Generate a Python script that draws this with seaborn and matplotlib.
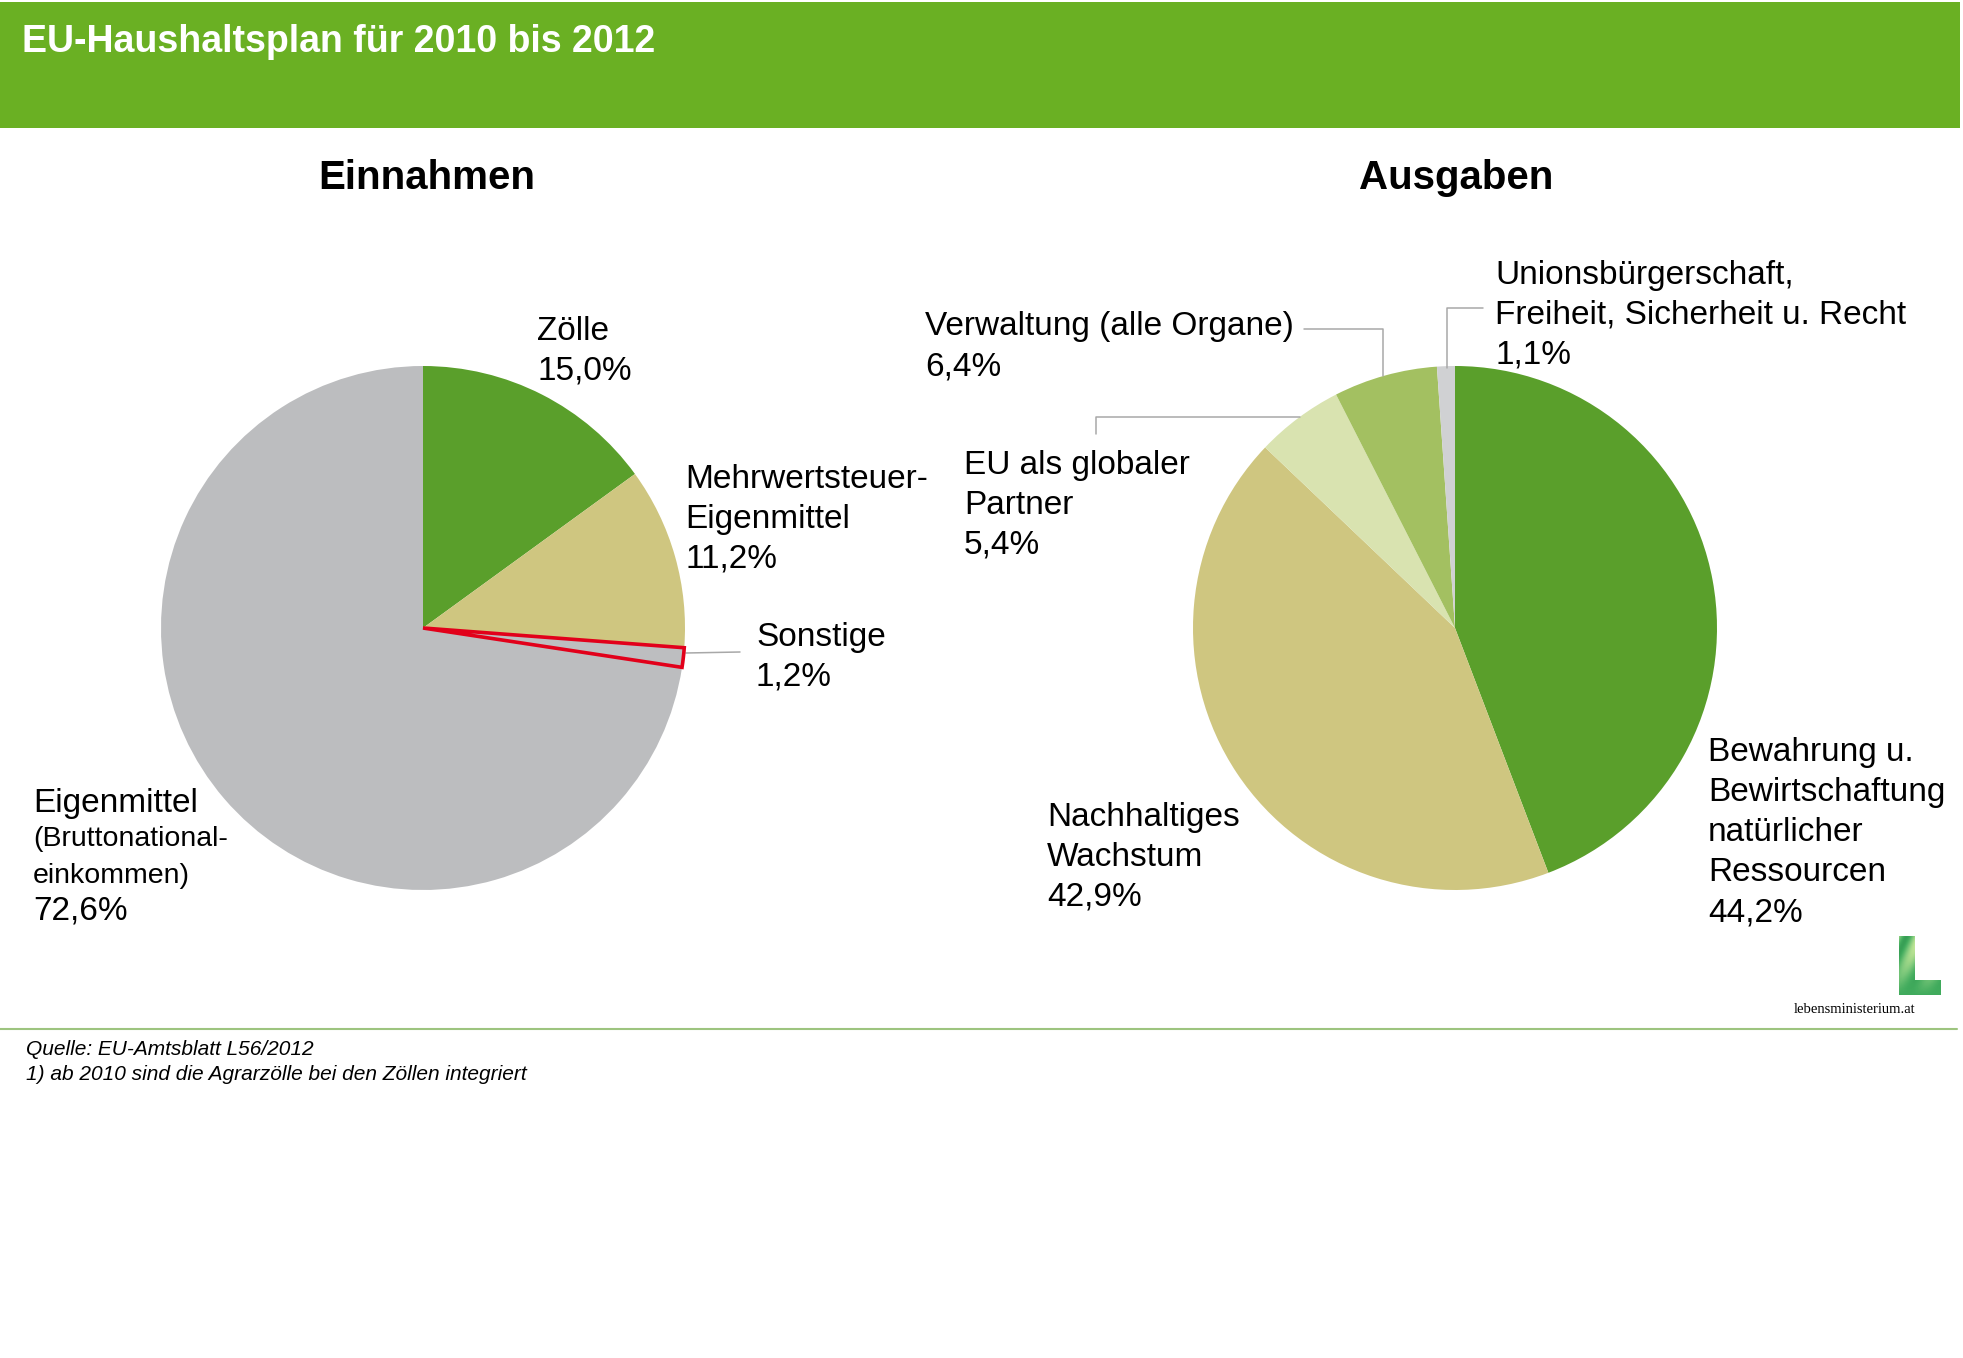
import numpy as np
import matplotlib
matplotlib.use("Agg")
import matplotlib.pyplot as plt
from matplotlib.patches import Rectangle, Polygon
from matplotlib import font_manager
import seaborn as sns

# Einnahmen, clockwise from 12 o'clock
ein_labels = ["Zölle", "Mehrwertsteuer-Eigenmittel", "Sonstige",
              "Eigenmittel (Bruttonationaleinkommen)"]
ein_values = [15.0, 11.2, 1.2, 72.6]

# Ausgaben, clockwise from 12 o'clock
aus_labels = ["Bewahrung u. Bewirtschaftung natürlicher Ressourcen",
              "Nachhaltiges Wachstum", "EU als globaler Partner",
              "Verwaltung (alle Organe)",
              "Unionsbürgerschaft, Freiheit, Sicherheit u. Recht"]
aus_values = [44.2, 42.9, 5.4, 6.4, 1.1]

# how the label text is broken in the chart
ein_rows = [["Zölle"], ["Mehrwertsteuer-", "Eigenmittel"], ["Sonstige"],
            ["Eigenmittel", "(Bruttonational-", "einkommen)"]]
aus_rows = [["Bewahrung u.", "Bewirtschaftung", "natürlicher", "Ressourcen"],
            ["Nachhaltiges", "Wachstum"], ["EU als globaler", "Partner"],
            ["Verwaltung (alle Organe)"],
            ["Unionsbürgerschaft,", "Freiheit, Sicherheit u. Recht"]]

title = "EU-Haushaltsplan für 2010 bis 2012"
notes = ["Quelle: EU-Amtsblatt L56/2012",
         "1) ab 2010 sind die Agrarzölle bei den Zöllen integriert"]

sns.set_theme(style="white")
names = {f.name for f in font_manager.fontManager.ttflist}
SANS = ["Liberation Sans", "DejaVu Sans"]
NARROW = ["Liberation Sans Narrow"] if "Liberation Sans Narrow" in names else SANS
plt.rcParams["font.family"] = SANS
plt.rcParams["text.color"] = "black"

W, H = 1963, 1358
fig = plt.figure(figsize=(W / 100, H / 100), dpi=100)
ax = fig.add_axes([0, 0, 1, 1])


def Y(y):
    return H - y


def pct(v):
    return f"{v:.1f}".replace(".", ",") + "%"


def block(x, y0, step, rows, size=24):
    for i, r in enumerate(rows):
        ax.text(x, Y(y0 + i * step + 12), r, fontsize=size, va="baseline",
                ha="left", color="black")


# header band
ax.add_patch(Rectangle((0, Y(128)), 1960, 126, color="#6ab023", lw=0))
ax.text(22, Y(52), title, fontsize=31 if NARROW != SANS else 27,
        fontweight="bold", color="white", family=NARROW, va="baseline")

ax.text(427, Y(178), "Einnahmen", fontsize=29, fontweight="bold",
        ha="center", va="center")
ax.text(1456, Y(178), "Ausgaben", fontsize=29, fontweight="bold",
        ha="center", va="center")

ein_colors = ["#5a9f2b", "#cfc680", "#bdbec0", "#bcbdbf"]
aus_colors = ["#5a9f2b", "#cfc680", "#d9e3b0", "#a3c061", "#d0d1d3"]

w1, _ = ax.pie(ein_values, colors=ein_colors, startangle=90, counterclock=False,
               center=(423, Y(628)), radius=262, frame=True,
               wedgeprops=dict(linewidth=0))
w1[2].set_edgecolor("#e2001a")
w1[2].set_linewidth(2.6)
w1[2].set_joinstyle("miter")
w1[2].set_zorder(3)

ax.pie(aus_values, colors=aus_colors, startangle=90, counterclock=False,
       center=(1455, Y(628)), radius=262, frame=True,
       wedgeprops=dict(linewidth=0))

# connector lines
lc = dict(color="#a8a8a8", lw=1.1)
ax.plot([686, 740], [Y(653), Y(652)], **lc)
ax.plot([1304, 1383, 1383], [Y(329), Y(329), Y(376)], **lc)
ax.plot([1300, 1096, 1096], [Y(417), Y(417), Y(434)], **lc)
ax.plot([1483, 1447, 1447], [Y(308), Y(308), Y(368)], **lc)

# labels Einnahmen
block(537, 328, 40, ein_rows[0] + [pct(ein_values[0])])
block(685, 476, 40, ein_rows[1] + [pct(ein_values[1])])
block(756, 634, 40, ein_rows[2] + [pct(ein_values[2])])
block(33, 800, 40, ein_rows[3][:1])
block(33, 834, 37, ein_rows[3][1:], size=20.5)
block(33, 907, 40, [pct(ein_values[3])])

# labels Ausgaben
block(1708, 749, 40, aus_rows[0] + [pct(aus_values[0])])
block(1047, 814, 40, aus_rows[1] + [pct(aus_values[1])])
block(964, 462, 40, aus_rows[2] + [pct(aus_values[2])])
block(925, 323, 40, aus_rows[3] + [pct(aus_values[3])])
block(1495, 272, 40, aus_rows[4] + [pct(aus_values[4])])

# logo
L = Polygon([(1899, Y(936)), (1915, Y(936)), (1915, Y(980)), (1941, Y(980)),
             (1941, Y(995)), (1899, Y(995))], closed=True, fc="none", ec="none")
ax.add_patch(L)
gx, gy = np.meshgrid(np.linspace(0, 1, 40), np.linspace(0, 1, 60))
shade = 0.55 + 0.25 * np.sin(gx * 9 + gy * 6) * (1 - gy) + 0.2 * gy
img = ax.imshow(shade, cmap="YlGn", vmin=0, vmax=1.2,
                extent=(1899, 1941, Y(995), Y(936)), zorder=2)
img.set_clip_path(L)
ax.text(1794, Y(1013), "lebensministerium.at", fontsize=10.5,
        family=["Liberation Serif", "DejaVu Serif"], va="baseline")

# footer
ax.plot([0, 1957], [Y(1029), Y(1029)], color="#9dc47f", lw=1.5)
ax.text(26, Y(1055), notes[0], fontsize=15, style="italic", va="baseline")
ax.text(26, Y(1080), notes[1], fontsize=15, style="italic", va="baseline")

ax.set_xlim(0, W)
ax.set_ylim(0, H)
ax.set_aspect("auto")
ax.axis("off")
fig.savefig("out.png", dpi=100, facecolor="white")
